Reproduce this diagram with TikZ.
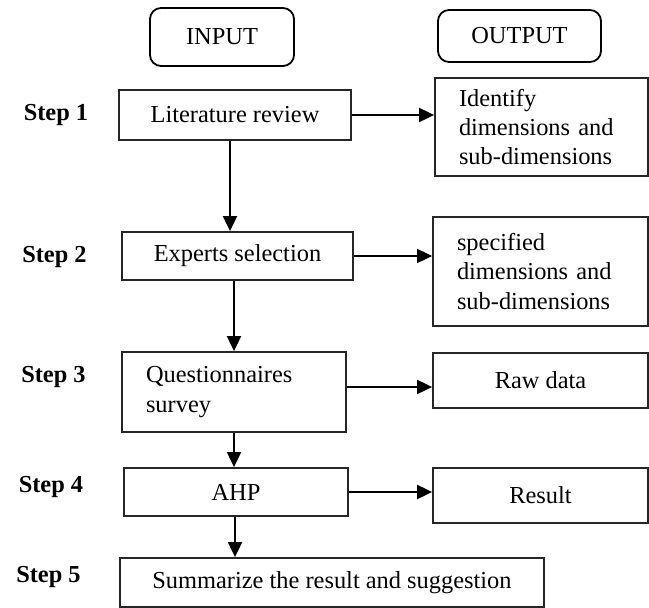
\documentclass[tikz,border=0pt]{standalone}
\usepackage{fontspec}
\setmainfont{Liberation Serif}
\usetikzlibrary{arrows.meta,calc}
\tikzset{
  box/.style={draw=black!85, line width=1.8pt, inner sep=0pt, align=center,
    font=\fontsize{24.4}{29.3}\selectfont},
  headbox/.style={box, draw=black, rounded corners=11pt},
  textbox/.style={box, align=left, inner xsep=24pt},
  steplabel/.style={inner sep=0pt, font=\fontsize{24.4}{29.3}\selectfont\bfseries},
  flow/.style={line width=1.9pt, -{Triangle[length=15pt,width=14pt]}}
}
\begin{document}
\begin{tikzpicture}[x=1pt,y=-1pt]
\useasboundingbox (0,0) rectangle (649,608);

% column headings
\node[headbox, minimum width=144pt, minimum height=58pt] (input) at (222,37) {INPUT};
\node[headbox, minimum width=163pt, minimum height=52pt] (output) at (519.5,36) {OUTPUT};

% step labels
\node[steplabel] (s1) at (56,115) {Step 1};
\node[steplabel] (s2) at (54.5,257) {Step 2};
\node[steplabel] (s3) at (53.5,377) {Step 3};
\node[steplabel] (s4) at (51,487) {Step 4};
\node[steplabel] (s5) at (48.5,577) {Step 5};

% input column
\node[box, minimum width=232pt, minimum height=50pt] (lit) at (235,115) {Literature review};
\node[box, minimum width=231pt, minimum height=48pt] (exp) at (237.5,256) {Experts selection};
\node[textbox, text width=176pt, minimum height=80pt] (quest) at (234,392) {Questionnaires\\survey};
\node[box, minimum width=224pt, minimum height=48pt] (ahp) at (236,492) {AHP};
\node[box, minimum width=424pt, minimum height=49pt] (summ) at (332,582.5) {Summarize the result and suggestion};

% output column
\node[textbox, text width=165pt, minimum height=98pt] (ident) at (541.5,127) {Identify\\dimensions and\\sub-dimensions};
\node[textbox, text width=167pt, minimum height=109pt] (spec) at (540.5,271.5) {specified\\dimensions and\\sub-dimensions};
\node[box, minimum width=215pt, minimum height=55pt] (raw) at (540.5,380.5) {Raw data};
\node[box, minimum width=215pt, minimum height=55pt] (res) at (540.5,495.5) {Result};

% horizontal connectors
\draw[flow] (lit.east) -- (lit.east -| ident.west);
\draw[flow] (exp.east) -- (exp.east -| spec.west);
\coordinate (qout) at ($(quest.east)+(0,-5)$);
\draw[flow] (qout) -- (qout -| raw.west);
\draw[flow] (ahp.east) -- (ahp.east -| res.west);

% vertical connectors
\coordinate (litdown) at ($(lit.south)+(-5,0)$);
\draw[flow] (litdown) -- (litdown |- exp.north);
\coordinate (expdown) at ($(exp.south)+(-3.5,0)$);
\draw[flow] (expdown) -- (expdown |- quest.north);
\draw[flow] (quest.south) -- (quest.south |- ahp.north);
\coordinate (ahpdown) at ($(ahp.south)+(-1,0)$);
\draw[flow] (ahpdown) -- (ahpdown |- summ.north);
\end{tikzpicture}
\end{document}
